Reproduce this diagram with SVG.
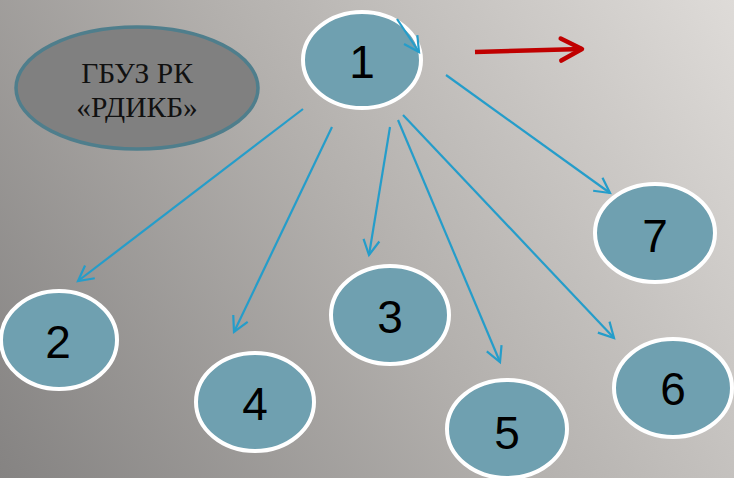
<svg xmlns="http://www.w3.org/2000/svg" width="734" height="478" viewBox="0 0 734 478">
<defs>
<linearGradient id="bg" x1="0" y1="478" x2="734" y2="0" gradientUnits="userSpaceOnUse">
<stop offset="0" stop-color="#858382"/>
<stop offset="0.5" stop-color="#b3b0ad"/>
<stop offset="1" stop-color="#dedbd8"/>
</linearGradient>
<marker id="ab" viewBox="-16 -10 20 20" refX="0" refY="0" markerWidth="20" markerHeight="20" markerUnits="userSpaceOnUse" orient="auto" overflow="visible">
<path d="M-15,-8 L0,0 L-15,8" fill="none" stroke="#259dca" stroke-width="2.2"/>
</marker>
<marker id="ar" viewBox="-24 -14 28 28" refX="0" refY="0" markerWidth="28" markerHeight="28" markerUnits="userSpaceOnUse" orient="auto" overflow="visible">
<path d="M-21,-11 L0,0 L-21,11" fill="none" stroke="#c00000" stroke-width="4.5" stroke-linecap="round" stroke-linejoin="round"/>
</marker>
<style>
.n ellipse{fill:#6fa0b0;stroke:#ffffff;stroke-width:4}
.n text{font-family:"Liberation Sans",Arial,sans-serif;font-size:46px;fill:#000;text-anchor:middle}
.c line{stroke:#259dca;stroke-width:2.2;fill:none;marker-end:url(#ab)}
.t{font-family:"Liberation Serif","Times New Roman",serif;font-size:29.5px;text-anchor:middle;fill:#111}
</style>
</defs>
<rect x="0" y="0" width="734" height="478" fill="url(#bg)"/>
<g id="org">
<ellipse cx="137" cy="88" rx="121" ry="61" fill="#808080" stroke="#4f7e8c" stroke-width="3.5"/>
<text class="t" x="137" y="83">ГБУЗ РК</text>
<text class="t" x="137" y="117">«РДИКБ»</text>
</g>
<g id="node1" class="n"><ellipse cx="362" cy="60" rx="59" ry="48"/><text x="362" y="78">1</text></g>
<g id="node2" class="n"><ellipse cx="59" cy="340" rx="58" ry="49"/><text x="58" y="358">2</text></g>
<g id="node3" class="n"><ellipse cx="390" cy="315" rx="59" ry="49"/><text x="390" y="333">3</text></g>
<g id="node4" class="n"><ellipse cx="255" cy="402" rx="59" ry="49"/><text x="255" y="420">4</text></g>
<g id="node5" class="n"><ellipse cx="507" cy="429" rx="60" ry="49"/><text x="507" y="449">5</text></g>
<g id="node6" class="n"><ellipse cx="673" cy="388" rx="59" ry="49"/><text x="673" y="405">6</text></g>
<g id="node7" class="n"><ellipse cx="655" cy="233" rx="60" ry="49"/><text x="655" y="252">7</text></g>
<g id="connectors" class="c">
<line x1="397" y1="19" x2="419" y2="52"/>
<line x1="303" y1="109" x2="78" y2="281"/>
<line x1="332" y1="127" x2="234" y2="332"/>
<line x1="390" y1="127" x2="369" y2="255"/>
<line x1="398" y1="120" x2="500" y2="362"/>
<line x1="403" y1="115" x2="614" y2="338"/>
<line x1="446" y1="75" x2="610" y2="193"/>
<line x1="475" y1="52" x2="582" y2="49" style="stroke:#c00000;stroke-width:4.5;marker-end:url(#ar)"/>
</g>
</svg>
